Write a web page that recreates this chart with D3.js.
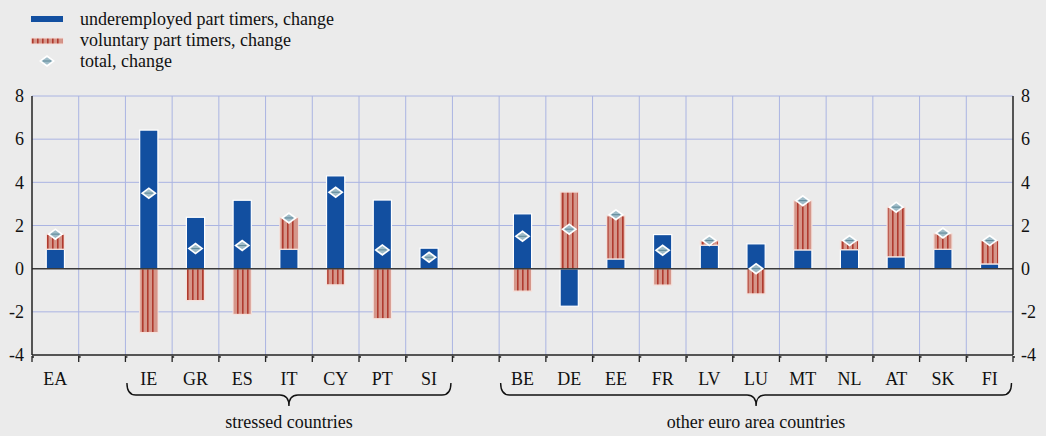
<!DOCTYPE html>
<html>
<head>
<meta charset="utf-8">
<script src="https://cdn.jsdelivr.net/npm/d3@7"></script>
<style>
  html, body { margin: 0; padding: 0; background: #ebebeb; }
  svg { display: block; }
  svg text { font-family: "Liberation Serif", "DejaVu Serif", serif !important; }
</style>
</head>
<body>
<svg id="chart" width="1046" height="436"></svg>
<script>
const categories = ["EA", "", "IE", "GR", "ES", "IT", "CY", "PT", "SI", " ", "BE", "DE", "EE", "FR", "LV", "LU", "MT", "NL", "AT", "SK", "FI"];
const underemployed = [0.9, null, 6.42, 2.38, 3.17, 0.9, 4.3, 3.18, 0.95, null, 2.54, -1.74, 0.45, 1.58, 1.09, 1.15, 0.87, 0.88, 0.55, 0.9, 0.22];
const voluntary = [0.7, null, -2.96, -1.48, -2.12, 1.47, -0.75, -2.32, 0, null, -1.04, 3.55, 2.0, -0.76, 0.2, -1.17, 2.28, 0.42, 2.3, 0.72, 1.08];
const total = [1.6, null, 3.5, 0.93, 1.07, 2.35, 3.54, 0.87, 0.53, null, 1.5, 1.83, 2.5, 0.85, 1.3, 0.0, 3.15, 1.3, 2.85, 1.65, 1.3];
const yTicks = [-4, -2, 0, 2, 4, 6, 8];
const groups = [
  { label: "stressed countries", from: "IE", to: "SI" },
  { label: "other euro area countries", from: "BE", to: "FI" }
];
const legendLabels = ["underemployed part timers, change", "voluntary part timers, change", "total, change"];

(function () {
const BLUE = "#124fa0", SALMON = "#d5968a", STRIPE = "#b03a2e", GRID = "#aab4e2";
const FONT = "Liberation Serif, serif";
const svg = d3.select("#chart");
const pL = 32, pR = 1013, pT = 96, pB = 355;

const x = d3.scaleBand().domain(categories).range([pL, pR]).paddingInner(0).paddingOuter(0);
const y = d3.scaleLinear().domain([-4, 8]).range([pB, pT]);

const defs = svg.append("defs");
const pat = defs.append("pattern").attr("id", "stripes").attr("patternUnits", "userSpaceOnUse")
  .attr("width", 5).attr("height", 10);
pat.append("rect").attr("width", 5).attr("height", 10).attr("fill", SALMON);
pat.append("rect").attr("x", 2).attr("width", 1.6).attr("height", 10).attr("fill", STRIPE);

const g = svg.append("g");
g.selectAll(".hg").data(yTicks.filter(d => d !== 0 && d !== -4)).enter().append("line")
  .attr("x1", pL).attr("x2", pR).attr("y1", d => y(d)).attr("y2", d => y(d))
  .attr("stroke", GRID).attr("stroke-width", 1);
g.selectAll(".vg").data(categories.slice(1)).enter().append("line")
  .attr("x1", d => x(d)).attr("x2", d => x(d)).attr("y1", pT).attr("y2", pB)
  .attr("stroke", GRID).attr("stroke-width", 1);

const bw = x.bandwidth() * 0.39;
const barG = svg.append("g");
categories.forEach((c, i) => {
  const u = underemployed[i], v = voluntary[i];
  if (u === null) return;
  const cx = x(c) + x.bandwidth() / 2;
  barG.append("rect").attr("x", cx - bw / 2).attr("width", bw)
    .attr("y", y(Math.max(0, u))).attr("height", Math.abs(y(u) - y(0)))
    .attr("fill", BLUE).attr("stroke", "#ffffff").attr("stroke-width", 1.2);
  if (v) {
    const base = (Math.sign(v) === Math.sign(u)) ? u : 0;
    const end = base + v;
    barG.append("rect").attr("x", cx - bw / 2).attr("width", bw)
      .attr("y", y(Math.max(base, end))).attr("height", Math.abs(y(end) - y(base)))
      .attr("fill", "url(#stripes)").attr("stroke", "#f5e2dd").attr("stroke-width", 1.2);
  }
});

svg.append("line").attr("x1", pL).attr("x2", pR).attr("y1", y(0)).attr("y2", y(0))
  .attr("stroke", "#3a3a3a").attr("stroke-width", 1.5);

function diamond(sel, cx, cy) {
  sel.append("path").attr("d", `M${cx - 8},${cy} L${cx},${cy - 6} L${cx + 8},${cy} L${cx},${cy + 6} Z`)
    .attr("fill", "#ffffff");
  sel.append("path").attr("d", `M${cx - 5.5},${cy} L${cx},${cy - 3.8} L${cx + 5.5},${cy} L${cx},${cy + 3.8} Z`)
    .attr("fill", "#9fbcc8");
  sel.append("line").attr("x1", cx - 4).attr("x2", cx + 4).attr("y1", cy).attr("y2", cy)
    .attr("stroke", "#5d8797").attr("stroke-width", 1);
}
const mG = svg.append("g");
categories.forEach((c, i) => {
  if (total[i] === null) return;
  diamond(mG, x(c) + x.bandwidth() / 2, y(total[i]));
});

const axisFont = "18px";
const fmt = d => String(d);
const leftAxis = svg.append("g").attr("transform", `translate(${pL},0)`)
  .call(d3.axisLeft(y).tickValues(yTicks).tickSize(0).tickPadding(8).tickFormat(fmt));
const rightAxis = svg.append("g").attr("transform", `translate(${pR},0)`)
  .call(d3.axisRight(y).tickValues(yTicks).tickSize(0).tickPadding(8).tickFormat(fmt));
[leftAxis, rightAxis].forEach(a => {
  a.attr("font-family", FONT).attr("font-size", axisFont);
  a.select(".domain").attr("stroke", "#222").attr("stroke-width", 1.5).attr("d", `M0,${pT}V${pB}`);
  a.selectAll("text").attr("font-size", axisFont).attr("fill", "#111").attr("font-family", FONT);
});

const bottomAxis = svg.append("g").attr("transform", `translate(0,${pB})`)
  .call(d3.axisBottom(x).tickSize(0).tickFormat(""));
bottomAxis.select(".domain").attr("stroke", "#222").attr("stroke-width", 1.5).attr("d", `M${pL},0H${pR}`);
const bounds = categories.map(c => x(c)).concat([pR]);
svg.append("g").selectAll("path").data(bounds).enter().append("path")
  .attr("d", d => `M${d},${pB + 1}V${pB + 7}M${d},${pB + 2}h2`)
  .attr("stroke", "#222").attr("stroke-width", 1.3).attr("fill", "none");
svg.append("g").selectAll("text").data(categories.filter(c => c.trim() !== "")).enter().append("text")
  .attr("x", d => x(d) + x.bandwidth() / 2).attr("y", 385)
  .attr("text-anchor", "middle").attr("font-size", axisFont).attr("font-family", FONT)
  .attr("fill", "#111").text(d => d);

groups.forEach(gr => {
  const x0 = x(gr.from) + 1.5, x1 = x(gr.to) + x.bandwidth() - 1.5;
  const xc = (x0 + x1) / 2;
  const yt = 383, yl = 395, yb = 406;
  const d = `M${x0},${yt} Q${x0},${yl} ${x0 + 9},${yl} L${xc - 9},${yl} Q${xc},${yl} ${xc},${yb} Q${xc},${yl} ${xc + 9},${yl} L${x1 - 9},${yl} Q${x1},${yl} ${x1},${yt}`;
  svg.append("path").attr("d", d).attr("fill", "none").attr("stroke", "#111").attr("stroke-width", 1.4);
  svg.append("text").attr("x", xc).attr("y", 428).attr("text-anchor", "middle")
    .attr("font-size", "18px").attr("font-family", FONT).attr("fill", "#111").text(gr.label);
});

const lg = svg.append("g");
lg.append("rect").attr("x", 31).attr("y", 16).attr("width", 32).attr("height", 6).attr("fill", BLUE);
lg.append("rect").attr("x", 31).attr("y", 38).attr("width", 32).attr("height", 6).attr("fill", "url(#stripes)")
  .attr("stroke", "#f5e2dd").attr("stroke-width", 1);
diamond(lg, 47, 61);
legendLabels.forEach((t, i) => {
  lg.append("text").attr("x", 80).attr("y", 25 + i * 21).attr("font-size", "18px")
    .attr("font-family", FONT).attr("fill", "#111").text(t);
});
})();
</script>
</body>
</html>
